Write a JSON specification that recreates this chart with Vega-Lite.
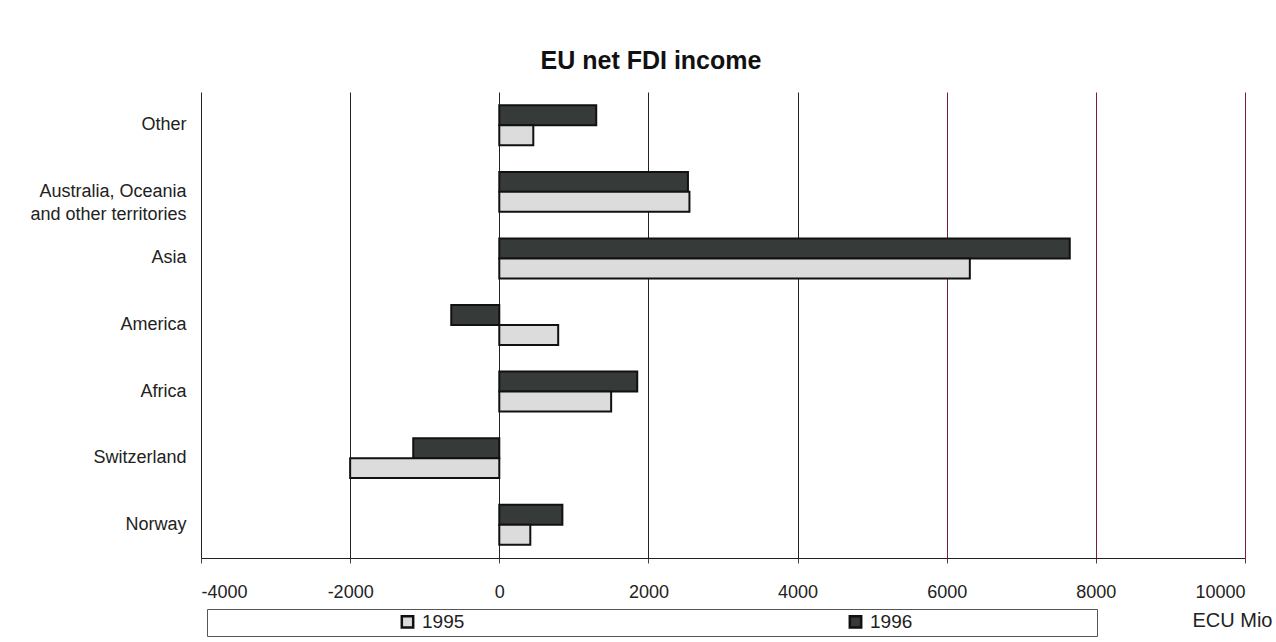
{
  "$schema": "https://vega.github.io/schema/vega-lite/v6.json",
  "autosize": {"type": "none"},
  "width": 1044,
  "height": 466,
  "padding": {"left": 201, "top": 92, "right": 31, "bottom": 84},
  "background": "#ffffff",
  "title": {
    "text": "EU net FDI income",
    "font": "Liberation Sans",
    "fontSize": 25,
    "fontWeight": "bold",
    "color": "#111111",
    "anchor": "middle",
    "dx": -72,
    "offset": 18
  },
  "data": {
    "values": [
      {"region": "Other", "year": "1996", "value": 1300},
      {"region": "Other", "year": "1995", "value": 456},
      {"region": "Australia, Oceania and other territories", "year": "1996", "value": 2530},
      {"region": "Australia, Oceania and other territories", "year": "1995", "value": 2550},
      {"region": "Asia", "year": "1996", "value": 7650},
      {"region": "Asia", "year": "1995", "value": 6310},
      {"region": "America", "year": "1996", "value": -644},
      {"region": "America", "year": "1995", "value": 790},
      {"region": "Africa", "year": "1996", "value": 1850},
      {"region": "Africa", "year": "1995", "value": 1500},
      {"region": "Switzerland", "year": "1996", "value": -1154},
      {"region": "Switzerland", "year": "1995", "value": -2000},
      {"region": "Norway", "year": "1996", "value": 846},
      {"region": "Norway", "year": "1995", "value": 416}
    ]
  },
  "mark": {"type": "bar", "stroke": "#111111", "strokeWidth": 2},
  "encoding": {
    "y": {
      "field": "region",
      "type": "nominal",
      "sort": ["Other", "Australia, Oceania and other territories", "Asia", "America", "Africa", "Switzerland", "Norway"],
      "scale": {"paddingInner": 0.4, "paddingOuter": 0.2},
      "axis": {
        "title": null,
        "domain": false,
        "ticks": false,
        "labelPadding": 15,
        "labelFont": "Liberation Sans",
        "labelFontSize": 18,
        "labelColor": "#222222",
        "labelLineHeight": 23,
        "labelLimit": 300,
        "labelExpr": "datum.value == 'Australia, Oceania and other territories' ? ['Australia, Oceania', 'and other territories'] : datum.value"
      }
    },
    "yOffset": {"field": "year", "type": "nominal", "sort": ["1996", "1995"]},
    "x": {
      "field": "value",
      "type": "quantitative",
      "scale": {"domain": [-4000, 10000], "nice": false, "zero": false},
      "axis": {
        "values": [-4000, -2000, 0, 2000, 4000, 6000, 8000, 10000],
        "labelExpr": "'' + datum.value",
        "grid": true,
        "gridColor": {"condition": {"test": "datum.value > 5000", "value": "#7a2035"}, "value": "#222222"},
        "gridOpacity": 1,
        "gridWidth": 1,
        "domain": true,
        "domainColor": "#222222",
        "tickColor": "#444444",
        "tickSize": 5,
        "labelPadding": 20,
        "labelFont": "Liberation Sans",
        "labelFontSize": 18,
        "labelColor": "#222222",
        "title": "ECU Mio",
        "titleFont": "Liberation Sans",
        "titleFontSize": 20,
        "titleFontWeight": "normal",
        "titleColor": "#222222",
        "titleAlign": "right",
        "titleAnchor": "end",
        "titleBaseline": "middle",
        "titleX": 1071,
        "titleY": 62
      }
    },
    "fill": {
      "field": "year",
      "type": "nominal",
      "scale": {"domain": ["1995", "1996"], "range": ["#dcdcdc", "#363b39"]},
      "legend": {
        "title": " ",
        "titleOrient": "right",
        "titlePadding": 182,
        "orient": "none",
        "direction": "horizontal",
        "legendX": 6,
        "legendY": 517,
        "padding": 3,
        "strokeColor": "#555555",
        "fillColor": "#ffffff",
        "symbolType": "square",
        "symbolSize": 130,
        "symbolStrokeColor": "#111111",
        "symbolStrokeWidth": 2.5,
        "symbolOffset": 188,
        "columnPadding": 193,
        "labelFont": "Liberation Sans",
        "labelFontSize": 19,
        "labelColor": "#222222",
        "labelOffset": 5
      }
    }
  },
  "config": {
    "view": {"stroke": null}
  }
}
